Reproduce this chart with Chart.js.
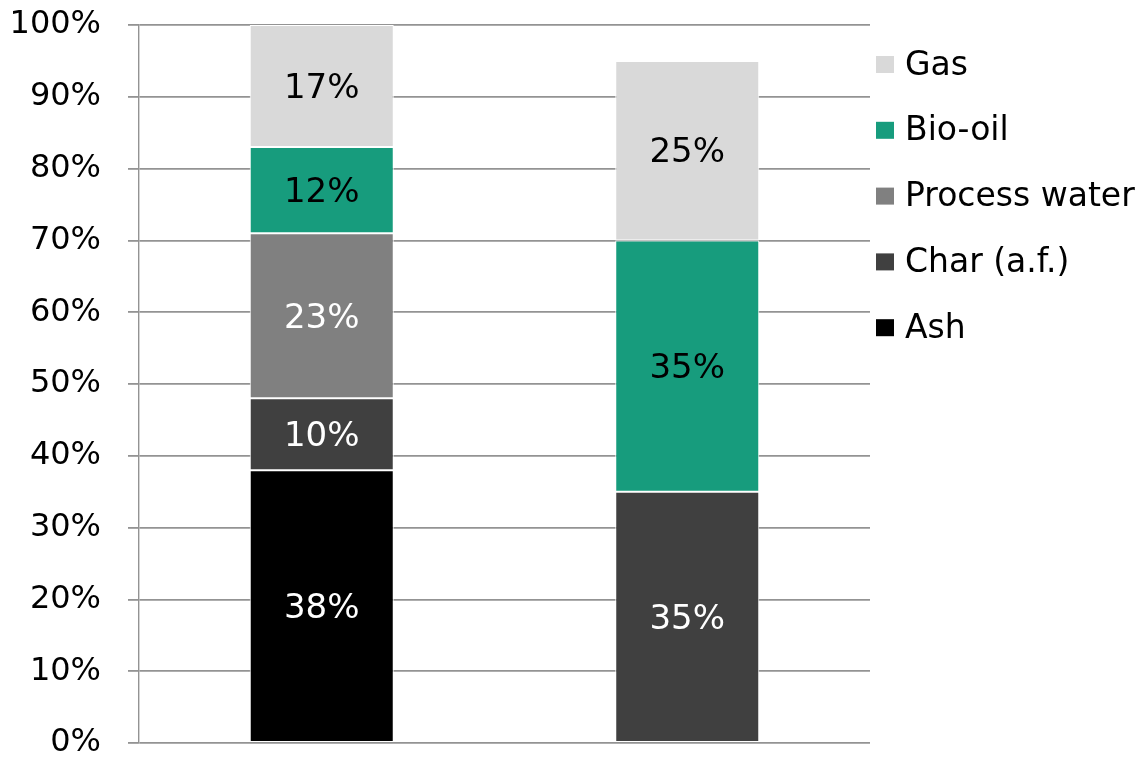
<!DOCTYPE html>
<html>
<head>
<meta charset="utf-8">
<script src="https://cdn.jsdelivr.net/npm/chart.js@4.4.1/dist/chart.umd.min.js"></script>
<style>
  html, body { margin: 0; background: #fff; }
  #wrap { width: 1144px; height: 757px; position: relative; }
</style>
</head>
<body>
<div id="wrap"><canvas id="yieldChart"></canvas></div>
<script>
// product distribution, percent of feed (bottom to top)
const categories = ["", ""];
const ash = [38, 0];
const charAf = [10, 35];
const processWater = [23, 0];
const bioOil = [12, 35];
const gas = [17, 25];

const FONT = "'DejaVu Sans', sans-serif";
const GRID = "#939393";

Chart.defaults.font.family = FONT;
Chart.defaults.color = "#000";

// value labels in the middle of each segment
const segmentLabels = {
    id: "segmentLabels",
    afterDatasetsDraw(chart) {
        const ctx = chart.ctx;
        ctx.save();
        ctx.font = "34px " + FONT;
        ctx.textAlign = "center";
        ctx.textBaseline = "middle";
        chart.data.datasets.forEach((ds, di) => {
            chart.getDatasetMeta(di).data.forEach((bar, i) => {
                const v = ds.data[i];
                if (!v) return;
                ctx.fillStyle = ds.labelColor;
                ctx.fillText(v + "%", bar.x, (bar.y + bar.base) / 2 + 3);
            });
        });
        ctx.restore();
    }
};

// legend on the right, top series first
const sideLegend = {
    id: "sideLegend",
    afterDraw(chart) {
        const ctx = chart.ctx;
        const area = chart.chartArea;
        const x = area.right + 6;
        let y = area.top + 39;
        ctx.save();
        ctx.font = "33px " + FONT;
        ctx.textBaseline = "middle";
        [...chart.data.datasets].reverse().forEach(ds => {
            ctx.fillStyle = ds.backgroundColor;
            ctx.fillRect(x, y - 8, 18, 17);
            ctx.fillStyle = "#000";
            ctx.fillText(ds.label, x + 29, y + 2);
            y += 65.8;
        });
        ctx.restore();
    }
};

const seg = (label, data, color, labelColor) => ({
    label, data,
    backgroundColor: color,
    borderColor: "#fff",
    borderWidth: 1,
    borderSkipped: false,
    labelColor,
    barPercentage: 0.394,
    categoryPercentage: 1
});

new Chart(document.getElementById("yieldChart"), {
    type: "bar",
    data: {
        labels: categories,
        datasets: [
            seg("Ash", ash, "#000000", "#fff"),
            seg("Char (a.f.)", charAf, "#404040", "#fff"),
            seg("Process water", processWater, "#808080", "#fff"),
            seg("Bio-oil", bioOil, "#179c7d", "#000"),
            seg("Gas", gas, "#d9d9d9", "#000")
        ]
    },
    options: {
        responsive: true,
        maintainAspectRatio: false,
        animation: false,
        layout: { padding: { top: 25, right: 274, bottom: 14, left: 0 } },
        plugins: {
            legend: { display: false },
            tooltip: { enabled: false }
        },
        scales: {
            x: {
                stacked: true,
                display: false
            },
            y: {
                stacked: true,
                min: 0,
                max: 100,
                ticks: {
                    stepSize: 10,
                    padding: 27,
                    font: { size: 32 },
                    color: "#000",
                    callback: v => v + "%"
                },
                grid: {
                    color: GRID,
                    tickColor: GRID,
                    tickLength: 11,
                    lineWidth: 1.8
                },
                border: { display: true, color: GRID, width: 1.4 },
                afterFit: s => {
                    s.width = 139;
                    s.paddingTop = 0;
                    s.paddingBottom = 0;
                }
            }
        }
    },
    plugins: [segmentLabels, sideLegend]
});
</script>
</body>
</html>
